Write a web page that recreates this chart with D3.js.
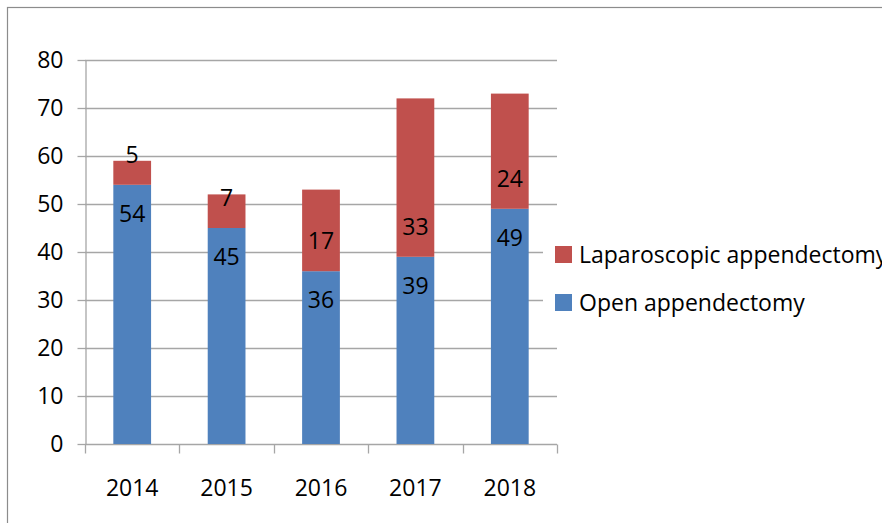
<!DOCTYPE html>
<html>
<head>
<meta charset="utf-8">
<script src="https://cdn.jsdelivr.net/npm/d3@7"></script>
<style>
  body { margin: 0; background: #fff; }
  svg text { font-family: "Open Sans", "Noto Sans", sans-serif; fill: #000; }
</style>
</head>
<body>
<svg id="chart" width="882" height="523"></svg>
<script>
/* Data */
const years = ['2014', '2015', '2016', '2017', '2018'];
const openValues = [54, 45, 36, 39, 49];
const laparoValues = [5, 7, 17, 33, 24];
const yTicks = [0, 10, 20, 30, 40, 50, 60, 70, 80];
const seriesNames = ['Laparoscopic appendectomy', 'Open appendectomy'];
const seriesColors = ['#C0504D', '#4F81BD'];

/* Layout */
const svg = d3.select('#chart');
const plot = { left: 85, right: 557, top: 60, bottom: 444 };
const fontSize = 23;

const x = d3.scaleBand()
    .domain(years)
    .range([plot.left, plot.right])
    .paddingInner(0.6)
    .paddingOuter(0.3);

const y = d3.scaleLinear()
    .domain([0, 80])
    .range([plot.bottom, plot.top]);

// outer frame (only top/left visible)
svg.append('rect')
    .attr('x', 7.5).attr('y', 7.5)
    .attr('width', 1000).attr('height', 1000)
    .attr('fill', 'none')
    .attr('stroke', '#8c8c8c')
    .attr('stroke-width', 1.2);

// gridlines
svg.append('g')
    .selectAll('line')
    .data(yTicks.filter(d => d > 0))
    .join('line')
    .attr('x1', plot.left).attr('x2', plot.right)
    .attr('y1', d => Math.round(y(d)) + 0.5)
    .attr('y2', d => Math.round(y(d)) + 0.5)
    .attr('stroke', '#a6a6a6')
    .attr('stroke-width', 1.3);

// y axis
const yAxis = svg.append('g')
    .attr('transform', `translate(${plot.left + 0.5},0)`)
    .call(d3.axisLeft(y).tickValues(yTicks).tickSize(8).tickPadding(14).tickSizeOuter(0));
yAxis.select('.domain').attr('stroke', '#a6a6a6').attr('stroke-width', 1.3);
yAxis.selectAll('.tick line').attr('stroke', '#a6a6a6').attr('stroke-width', 1.3);
yAxis.selectAll('.tick text')
    .attr('font-size', fontSize)
    .attr('font-family', '"Open Sans", sans-serif')
    .attr('fill', '#000');

// x axis: ticks at category boundaries
const xAxisG = svg.append('g')
    .attr('transform', `translate(0,${Math.round(y(0)) + 0.5})`);
xAxisG.append('line')
    .attr('x1', plot.left).attr('x2', plot.right)
    .attr('stroke', '#a6a6a6').attr('stroke-width', 1.3);
const boundaries = d3.range(years.length + 1).map(i => plot.left + i * (plot.right - plot.left) / years.length);
xAxisG.selectAll('line.tk')
    .data(boundaries)
    .join('line')
    .attr('class', 'tk')
    .attr('x1', d => Math.round(d) + 0.5).attr('x2', d => Math.round(d) + 0.5)
    .attr('y1', 0).attr('y2', 9)
    .attr('stroke', '#a6a6a6').attr('stroke-width', 1.3);
xAxisG.selectAll('text')
    .data(years)
    .join('text')
    .attr('x', d => x(d) + x.bandwidth() / 2)
    .attr('y', 51)
    .attr('text-anchor', 'middle')
    .attr('font-size', fontSize)
    .text(d => d);

// stacked bars
const rows = years.map((yr, i) => ({ year: yr, open: openValues[i], laparo: laparoValues[i] }));
const stack = d3.stack().keys(['open', 'laparo'])(rows);
const colorByKey = { open: seriesColors[1], laparo: seriesColors[0] };

svg.append('g')
    .selectAll('g')
    .data(stack)
    .join('g')
    .attr('fill', s => colorByKey[s.key])
    .selectAll('rect')
    .data(s => s)
    .join('rect')
    .attr('x', d => x(d.data.year))
    .attr('width', x.bandwidth())
    .attr('y', d => y(d[1]))
    .attr('height', d => y(d[0]) - y(d[1]));

// data labels: open near its top, laparoscopic near its base
const labels = svg.append('g')
    .attr('font-size', fontSize)
    .attr('text-anchor', 'middle');
labels.selectAll('text.open')
    .data(stack[0])
    .join('text')
    .attr('class', 'open')
    .attr('x', d => x(d.data.year) + x.bandwidth() / 2)
    .attr('y', d => y(d[1]) + 29)
    .attr('dy', '0.35em')
    .text(d => d.data.open);
labels.selectAll('text.laparo')
    .data(stack[1])
    .join('text')
    .attr('class', 'laparo')
    .attr('x', d => x(d.data.year) + x.bandwidth() / 2)
    .attr('y', d => y(d[0]) - 30)
    .attr('dy', '0.35em')
    .text(d => d.data.laparo);

// legend
const legend = svg.append('g');
legend.append('rect')
    .attr('x', 543).attr('y', 232)
    .attr('width', 400).attr('height', 88)
    .attr('fill', '#fff');
const items = legend.selectAll('g.item')
    .data(seriesNames)
    .join('g')
    .attr('class', 'item')
    .attr('transform', (d, i) => `translate(555,${246 + i * 48})`);
items.append('rect')
    .attr('width', 17).attr('height', 17)
    .attr('fill', (d, i) => seriesColors[i]);
items.append('text')
    .attr('x', 24).attr('y', 8.5)
    .attr('dy', '0.35em')
    .attr('font-size', fontSize)
    .text(d => d);
</script>
</body>
</html>
